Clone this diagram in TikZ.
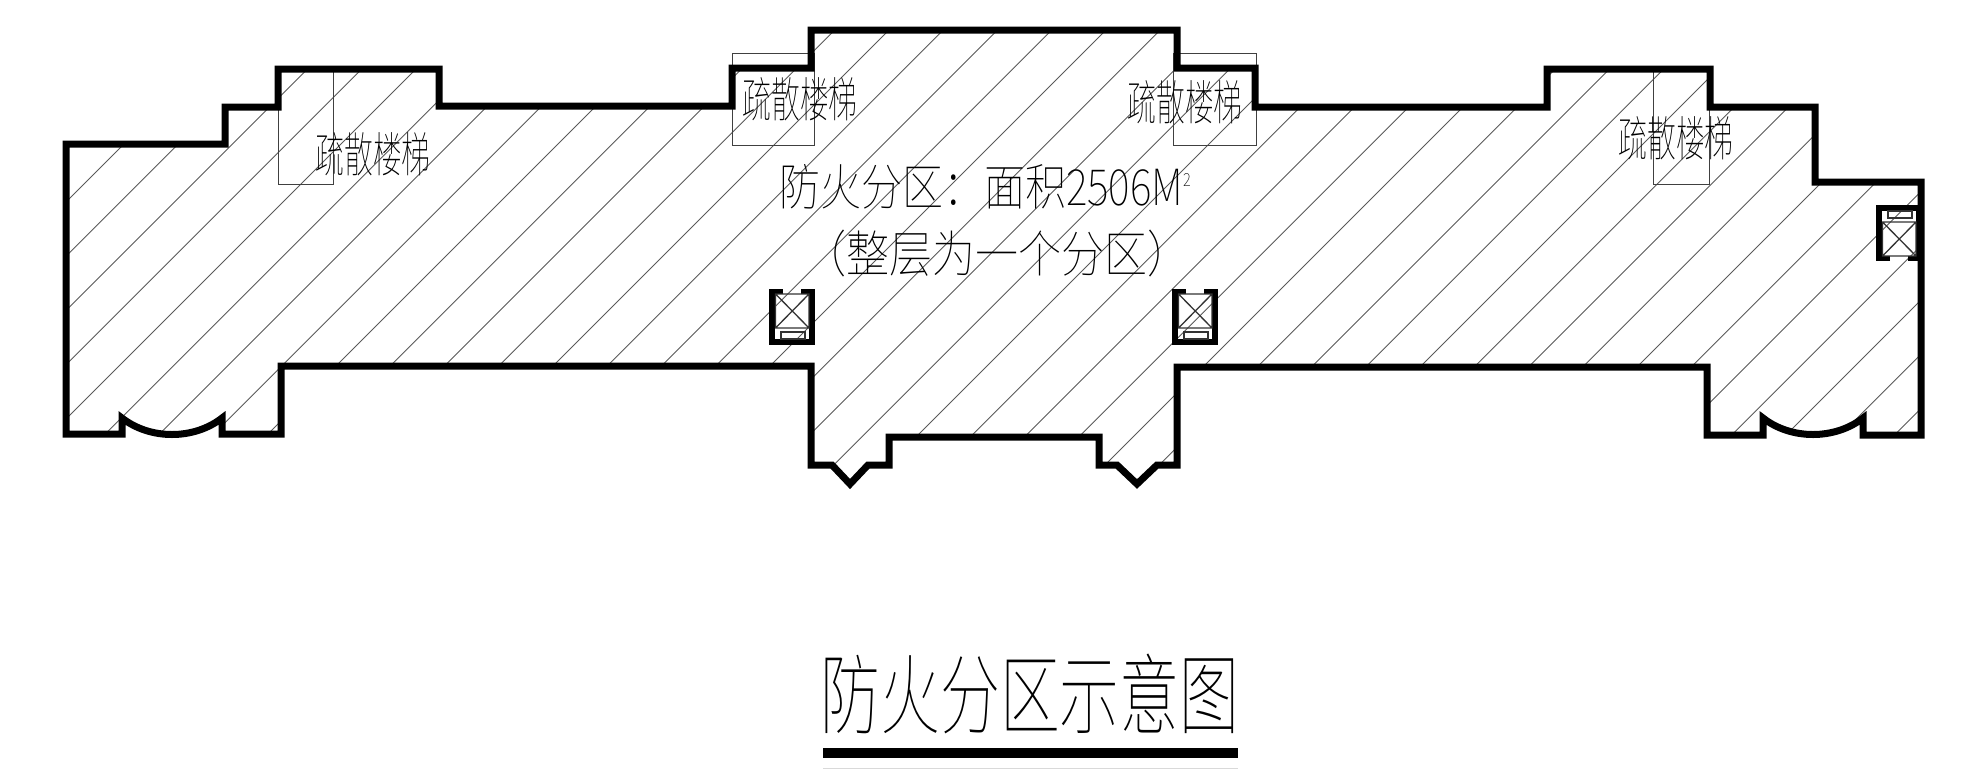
\documentclass[tikz,border=0pt]{standalone}
\usepackage{fontspec}
\usepackage{tikz}
\newfontfamily\cjkfont[UprightFont=* Thin]{Noto Sans CJK SC}
\usetikzlibrary{calc, positioning}

% outer wall of the floor, in image pixels
\def\planoutline{(66,144) -- (225,144) -- (225,107) -- (278,107) -- (278,69) -- (439,69) -- (439,106)
  -- (732,106) -- (732,68) -- (811,68) -- (811,30) -- (1177,30) -- (1177,68) -- (1255,68) -- (1255,107)
  -- (1547,107) -- (1547,69) -- (1710,69) -- (1710,107) -- (1815,107) -- (1815,182) -- (1921,182)
  -- (1921,435) -- (1863,435) -- (1863,418) .. controls (1835,440) and (1791,440) .. (1763,418)
  -- (1763,435) -- (1707,435) -- (1707,367) -- (1177,367) -- (1177,465) -- (1157,465) -- (1137,484)
  -- (1117,465) -- (1099,465) -- (1099,437) -- (889,437) -- (889,465) -- (868,465) -- (850,484)
  -- (832,465) -- (811,465) -- (811,366) -- (281,366) -- (281,434) -- (222,434) -- (222,418)
  .. controls (194,440) and (150,440) .. (122,418) -- (122,434) -- (66,434) -- cycle}

\begin{document}
\begin{tikzpicture}[
    x=1pt, y=-1pt,
    hatchline/.style={line width=1pt, draw=black!65},
    wall/.style={line width=7pt, miter limit=10},
    stairbox/.style={line width=1pt, draw=black!75},
    liftline/.style={line width=1.3pt, draw=black!80},
    stairlabel/.style={font=\cjkfont\fontsize{48}{48}\selectfont, xscale=0.6, transform shape, inner sep=0pt},
    arealabel/.style={font=\cjkfont\fontsize{50}{50}\selectfont, xscale=0.82, transform shape, inner sep=0pt},
    titlelabel/.style={font=\cjkfont\fontsize{88}{88}\selectfont, xscale=0.68, transform shape, inner sep=0pt},
    liftunit/.pic={
        \draw[line width=5.5pt] (14,2.5) -- (3,2.5) -- (3,53) -- (43,53) -- (43,2.5) -- (32,2.5);
        \draw[liftline] (6.5,5) rectangle (40,39) (6.5,5) -- (40,39) (40,5) -- (6.5,39);
        \draw[liftline] (12,43) rectangle (36,50);
    }
]
\useasboundingbox (0,0) rectangle (1978,769);

% Hatching
\begin{scope}
    \clip \planoutline;
    \foreach \k in {0,...,38} {
        \pgfmathsetmacro{\c}{268+54.25*\k}
        \draw[hatchline] (\c,0) -- ({\c-520},520);
    }
\end{scope}

% Stairs
\draw[stairbox] (278,69) rectangle (333,184);
\draw[stairbox] (732,53) rectangle (814,145);
\draw[stairbox] (1173,53) rectangle (1256,145);
\draw[stairbox] (1653,69) rectangle (1709,184);

% Walls
\draw[wall] \planoutline;

% Lifts
\pic at (769,289) {liftunit};
\pic at (1172,289) {liftunit};
\pic[yscale=-1] at (1876,261) {liftunit};

% Nodes
\node[stairlabel] (stairA) at (373,154) {疏散楼梯};
\node[stairlabel] (stairB) at (800,99) {疏散楼梯};
\node[stairlabel] (stairC) at (1185,102) {疏散楼梯};
\node[stairlabel] (stairD) at (1676,138) {疏散楼梯};
\node[arealabel] (area) at (985,187) {防火分区^^^^ff1a面积2506M\raisebox{19pt}{\fontsize{18}{18}\selectfont 2}};
\node[arealabel, xscale=1.05] (whole) at (997,253) {^^^^ff08整层为一个分区^^^^ff09};
\node[titlelabel] (title) at (1030,694) {防火分区示意图};

% Title rule
\draw[line width=10pt] (823,753) -- (1238,753);
\draw[line width=1pt, draw=black!15] (823,768.5) -- (1238,768.5);
\end{tikzpicture}
\end{document}
